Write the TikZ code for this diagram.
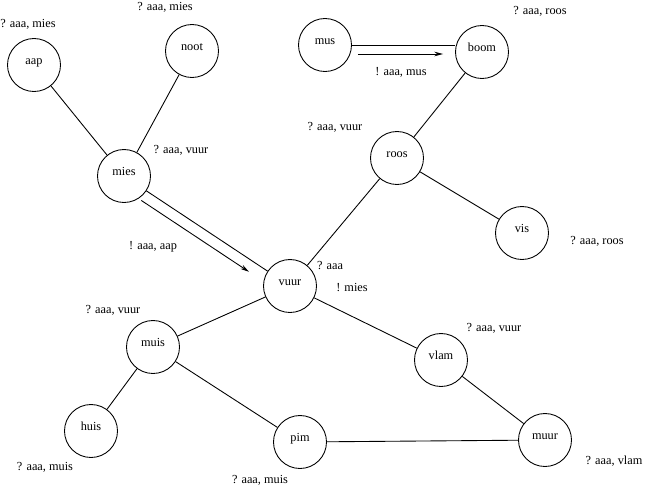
\documentclass[tikz,border=0pt]{standalone}
\usepackage{fontspec}
\setmainfont{Liberation Serif}
\usetikzlibrary{calc,arrows.meta}

\tikzset{
    state/.style={shape=circle, draw, minimum size=1.06cm, inner sep=0pt,
        text height=4pt, text depth=5pt, font=\fontsize{7}{8}\selectfont},
    msg/.style={inner sep=0pt, font=\fontsize{7}{8}\selectfont},
}

\begin{document}
\begin{tikzpicture}[x=0.02cm, y=-0.02cm, line width=0.5pt, >={Stealth[length=5pt,width=2.6pt]}]
            \useasboundingbox (0,0) rectangle (646,487);
            % processes
            \node[state] (aap) at (34,65) {aap};
            \node[state] (noot) at (192,51) {noot};
            \node[state] (mus) at (325,45) {mus};
            \node[state] (boom) at (482,52) {boom};
            \node[state] (mies) at (124,176) {mies};
            \node[state] (roos) at (397,158) {roos};
            \node[state] (vis) at (522,233) {vis};
            \node[state] (vuur) at (290,286) {vuur};
            \node[state] (muis) at (153,347) {muis};
            \node[state] (vlam) at (441,360) {vlam};
            \node[state] (huis) at (91,431) {huis};
            \node[state] (pim) at (300,442) {pim};
            \node[state] (muur) at (545,440) {muur};
            % messages
            \node[msg] (aapMsg) at (28,24) {? aaa, mies};
            \node[msg] (nootMsg) at (165,7) {? aaa, mies};
            \node[msg] (boomMsg) at (540,11) {? aaa, roos};
            \node[msg] (musMsg) at (401,72) {! aaa, mus};
            \node[msg] (miesMsg) at (181,150) {? aaa, vuur};
            \node[msg] (miesSend) at (153,247) {! aaa, aap};
            \node[msg] (roosMsg) at (335,127) {? aaa, vuur};
            \node[msg] (visMsg) at (597,241) {? aaa, roos};
            \node[msg] (vuurMsg) at (330,266) {? aaa};
            \node[msg] (vuurSend) at (352,288) {! mies};
            \node[msg] (muisMsg) at (113,310) {? aaa, vuur};
            \node[msg] (vlamMsg) at (494,328) {? aaa, vuur};
            \node[msg] (huisMsg) at (45,467) {? aaa, muis};
            \node[msg] (pimMsg) at (260,480) {? aaa, muis};
            \node[msg] (muurMsg) at (614,461) {? aaa, vlam};
            % links
            \draw (aap) -- (mies);
            \draw (noot) -- (mies);
            \draw (mies) -- (vuur);
            \draw (mus.east) -- (boom.west |- mus.east);
            \draw (boom) -- (roos);
            \draw (roos) -- (vis);
            \draw (roos) -- (vuur);
            \draw (vuur) -- (muis);
            \draw (vuur) -- (vlam);
            \draw (muis) -- (huis);
            \draw (muis) -- (pim);
            \draw (vlam) -- (muur);
            \draw (pim) -- (muur);
            % sent messages
            \draw[->] ($(mus.east)+(6,9)$) -- ($(boom.west |- mus.east)+(-12,9)$);
            \draw[->, shorten <=0.56cm, shorten >=0.84cm] ([shift={(-6,9)}]mies.center) -- ([shift={(-6,9)}]vuur.center);
        \end{tikzpicture}
\end{document}
